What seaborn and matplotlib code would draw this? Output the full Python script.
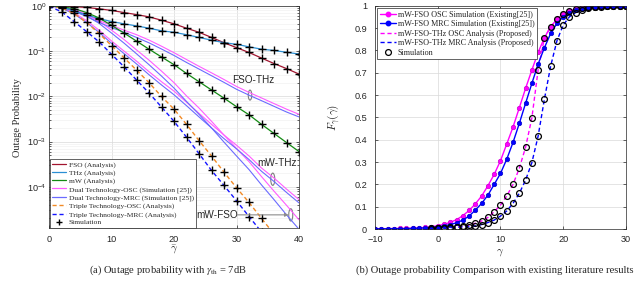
import matplotlib
matplotlib.use("Agg")
import matplotlib.pyplot as plt
import seaborn as sns
from matplotlib.patches import Ellipse
from matplotlib.lines import Line2D
from matplotlib.ticker import FormatStrFormatter, LogLocator, NullFormatter

# ---------------- (a) outage probability vs average SNR ----------------
snr_db = list(range(0, 41, 2))
p_fso = [1.0, 0.99, 0.96, 0.92, 0.86, 0.79, 0.71, 0.64, 0.57, 0.48, 0.40,
         0.32, 0.26, 0.20, 0.153, 0.119, 0.093, 0.070, 0.053, 0.041, 0.031]
p_thz = [1.0, 0.95, 0.77, 0.63, 0.52, 0.45, 0.40, 0.36, 0.32, 0.28, 0.26,
         0.23, 0.20, 0.174, 0.153, 0.141, 0.124, 0.110, 0.103, 0.094, 0.086]
p_mw = [1.0, 0.96, 0.87, 0.71, 0.54, 0.37, 0.25, 0.166, 0.110, 0.074, 0.050,
        0.032, 0.021, 0.0138, 0.0091, 0.0059, 0.0039, 0.0024, 0.00151, 0.00095, 0.00060]
# dual technology (simulation [25]) : FSO-THz, mW-THz, mW-FSO
osc_fso_thz = [1.0, 0.95, 0.80, 0.62, 0.47, 0.37, 0.29, 0.23, 0.175, 0.128, 0.092,
               0.065, 0.046, 0.033, 0.0235, 0.0165, 0.0122, 0.0092, 0.0069, 0.0052, 0.0040]
mrc_fso_thz = [1.0, 0.93, 0.76, 0.58, 0.43, 0.33, 0.26, 0.20, 0.152, 0.111, 0.080,
               0.056, 0.040, 0.0285, 0.0203, 0.0143, 0.0106, 0.0080, 0.0060, 0.0045, 0.0035]
osc_mw_thz = [1.0, 0.91, 0.70, 0.47, 0.29, 0.167, 0.100, 0.060, 0.035, 0.021, 0.013,
              0.0074, 0.0042, 0.0024, 0.00139, 0.00083, 0.00048, 0.00026, 0.000156, 8.9e-5, 5.2e-5]
mrc_mw_thz = [1.0, 0.89, 0.66, 0.43, 0.26, 0.148, 0.088, 0.052, 0.030, 0.0178, 0.0108,
              0.0062, 0.0035, 0.0020, 0.00116, 0.00069, 0.00040, 0.00022, 0.000131, 7.5e-5, 4.4e-5]
osc_mw_fso = [1.0, 0.95, 0.84, 0.65, 0.46, 0.29, 0.18, 0.106, 0.063, 0.036, 0.020,
              0.0102, 0.0055, 0.0028, 0.00139, 0.00070, 0.00036, 0.000168, 8.0e-5, 3.9e-5, 1.86e-5]
mrc_mw_fso = [1.0, 0.93, 0.80, 0.60, 0.41, 0.25, 0.150, 0.087, 0.050, 0.028, 0.0152,
              0.0077, 0.0040, 0.0020, 0.00097, 0.00048, 0.00024, 0.000110, 5.2e-5, 2.4e-5, 1.15e-5]
# triple technology (analysis)
osc_triple = [1.0, 0.90, 0.68, 0.43, 0.246, 0.132, 0.071, 0.038, 0.020, 0.0099, 0.0052,
              0.0024, 0.00105, 0.00048, 0.00021, 9.5e-5, 4.5e-5, 2.0e-5, 9e-6, 4e-6, 1.8e-6]
mrc_triple = [0.98, 0.74, 0.45, 0.27, 0.16, 0.085, 0.045, 0.023, 0.0118, 0.0058, 0.0028,
              0.00125, 5.4e-4, 2.3e-4, 1.07e-4, 4.9e-5, 2.2e-5, 1.0e-5, 4.5e-6, 2e-6, 9e-7]

# ---------------- (b) CDF comparison ----------------
gamma_db = list(range(-10, 31))
cdf_osc_sim = [0.001, 0.0012, 0.0015, 0.002, 0.0025, 0.003, 0.004, 0.005, 0.007, 0.010,
               0.015, 0.021, 0.030, 0.042, 0.060, 0.083, 0.113, 0.148, 0.194, 0.245,
               0.306, 0.381, 0.457, 0.543, 0.630, 0.712, 0.791, 0.857, 0.906, 0.940,
               0.963, 0.975, 0.984, 0.990, 0.993, 0.995, 0.997, 0.998, 0.999, 0.999, 1.0]
cdf_mrc_sim = [0.0007, 0.0008, 0.001, 0.0013, 0.0017, 0.002, 0.0028, 0.0035, 0.005, 0.007,
               0.010, 0.014, 0.020, 0.028, 0.040, 0.058, 0.085, 0.115, 0.152, 0.200,
               0.249, 0.313, 0.388, 0.473, 0.563, 0.652, 0.739, 0.812, 0.876, 0.921,
               0.951, 0.968, 0.980, 0.987, 0.992, 0.995, 0.997, 0.998, 0.999, 0.999, 1.0]
cdf_osc_ana = [0.0003, 0.0004, 0.0005, 0.0006, 0.0008, 0.001, 0.0013, 0.0017, 0.0022, 0.003,
               0.004, 0.005, 0.007, 0.009, 0.012, 0.017, 0.026, 0.036, 0.052, 0.078,
               0.107, 0.148, 0.200, 0.272, 0.366, 0.497, 0.712, 0.857, 0.906, 0.940,
               0.963, 0.975, 0.984, 0.990, 0.993, 0.995, 0.997, 0.998, 0.999, 0.999, 1.0]
cdf_mrc_ana = [0.0002, 0.0002, 0.0003, 0.0004, 0.0005, 0.0007, 0.0009, 0.0012, 0.0016, 0.002,
               0.003, 0.004, 0.005, 0.007, 0.010, 0.010, 0.014, 0.020, 0.029, 0.040,
               0.058, 0.081, 0.115, 0.160, 0.219, 0.297, 0.416, 0.581, 0.730, 0.843,
               0.914, 0.951, 0.970, 0.982, 0.989, 0.994, 0.996, 0.998, 0.999, 0.999, 1.0]
sim_start = 9  # circles drawn from gamma = -1 dB on

# ---------------- style ----------------
sns.set_style("ticks")
plt.rcParams['font.family'] = ['Liberation Serif', 'DejaVu Serif']
plt.rcParams['mathtext.fontset'] = 'custom'
plt.rcParams['mathtext.rm'] = 'Liberation Sans'
plt.rcParams['mathtext.it'] = 'Liberation Sans:italic'
plt.rcParams['axes.linewidth'] = 0.5
plt.rcParams['axes.edgecolor'] = '#262626'

SANS = 'Liberation Sans'
c_fso, c_thz, c_mw = '#A2142F', '#2a8fd4', '#138a13'
c_osc2, c_mrc2 = '#ff5cff', '#6b6bff'
c_osc3, c_mrc3 = '#f28a25', '#1414ff'

fig = plt.figure(figsize=(6.4, 2.91), dpi=100)
ax1 = fig.add_axes([0.0766, 0.215, 0.3906, 0.765])
ax2 = fig.add_axes([0.586, 0.213, 0.392, 0.767])


def line(ax, x, y, color, lw=0.9, dash=None, **kw):
    sns.lineplot(x=x, y=y, ax=ax, color=color, linewidth=lw, legend=False,
                 errorbar=None, **kw)
    ln = ax.lines[-1]
    if dash is not None:
        ln.set_dashes(dash)
    return ln


def plus(ax, x, y):
    # seaborn paints marker edges white by default, so force black
    sns.lineplot(x=x, y=y, ax=ax, color='k', marker='+', linestyle='none',
                 markersize=5.5, markeredgewidth=1.0, markeredgecolor='k',
                 legend=False, errorbar=None)


# ----- panel (a) -----
ax1.set_yscale('log')
for y, c in [(osc_fso_thz, c_osc2), (osc_mw_thz, c_osc2), (osc_mw_fso, c_osc2),
             (mrc_fso_thz, c_mrc2), (mrc_mw_thz, c_mrc2), (mrc_mw_fso, c_mrc2)]:
    line(ax1, snr_db, y, c, lw=0.8)
line(ax1, snr_db, osc_triple, c_osc3, lw=1.0, dash=(3, 2))
line(ax1, snr_db, mrc_triple, c_mrc3, lw=1.0, dash=(3, 2))
line(ax1, snr_db, p_fso, c_fso)
line(ax1, snr_db, p_thz, c_thz)
line(ax1, snr_db, p_mw, c_mw)
for y in [p_fso, p_thz, p_mw, osc_triple, mrc_triple]:
    plus(ax1, snr_db, y)

ax1.set_xlim(0, 40)
ax1.set_ylim(1.2e-5, 1)
ax1.set_xticks([0, 10, 20, 30, 40])
ax1.yaxis.set_major_locator(LogLocator(base=10, numticks=10))
ax1.yaxis.set_minor_locator(LogLocator(base=10, subs=range(2, 10), numticks=10))
ax1.yaxis.set_minor_formatter(NullFormatter())
ax1.grid(True, which='major', color='#d9d9d9', linewidth=0.5)
ax1.grid(True, which='minor', axis='y', color='#eeeeee', linewidth=0.4)
ax1.set_xlabel(r'$\bar{\gamma}$', fontsize=8, math_fontfamily='cm')
ax1.xaxis.set_label_coords(0.5, -0.095)
ax1.xaxis.label.set_va('center')
ax1.set_ylabel('Outage Probability', fontsize=7.5)
ax1.yaxis.set_label_coords(-0.108, 0.5)

ax1.text(0.816, 0.667, 'FSO-THz', transform=ax1.transAxes, fontsize=7.2,
         family=SANS, ha='center', va='center')
ax1.add_patch(Ellipse((0.804, 0.599), 0.014, 0.045, transform=ax1.transAxes,
                      fill=False, ec='#7f7f7f', lw=0.8))
ax1.text(0.912, 0.294, 'mW-THz', transform=ax1.transAxes, fontsize=7.2,
         family=SANS, ha='center', va='center')
ax1.add_patch(Ellipse((0.895, 0.221), 0.016, 0.055, transform=ax1.transAxes,
                      fill=False, ec='#7f7f7f', lw=0.8))
ax1.text(0.672, 0.061, 'mW-FSO', transform=ax1.transAxes, fontsize=7.2,
         family=SANS, ha='center', va='center')
ax1.annotate('', xy=(0.958, 0.061), xytext=(0.752, 0.061), xycoords='axes fraction',
             arrowprops=dict(arrowstyle='-|>', color='#8c8c8c', lw=0.8,
                             mutation_scale=5, shrinkA=0, shrinkB=0))
ax1.add_patch(Ellipse((0.967, 0.061), 0.016, 0.055, transform=ax1.transAxes,
                      fill=False, ec='#7f7f7f', lw=0.8))

h1 = [Line2D([], [], color=c_fso, lw=0.9),
      Line2D([], [], color=c_thz, lw=0.9),
      Line2D([], [], color=c_mw, lw=0.9),
      Line2D([], [], color=c_osc2, lw=0.9),
      Line2D([], [], color=c_mrc2, lw=0.9),
      Line2D([], [], color=c_osc3, lw=1.0, dashes=(3, 2)),
      Line2D([], [], color=c_mrc3, lw=1.0, dashes=(3, 2)),
      Line2D([], [], color='k', marker='+', ls='none', ms=5, mew=1.0)]
l1 = ['FSO (Analysis)', 'THz (Analysis)', 'mW (Analysis)',
      'Dual Technology-OSC (Simulation [25])', 'Dual Technology-MRC (Simulation [25])',
      'Triple Technology-OSC (Analysis)', 'Triple Technology-MRC (Analysis)', 'Simulation']
leg1 = ax1.legend(h1, l1, loc='lower left', fontsize=5.4, frameon=True, fancybox=False,
                  edgecolor='#262626', framealpha=1, borderaxespad=0.1, borderpad=0.3,
                  labelspacing=0.22, handlelength=1.9, handletextpad=0.3)
leg1.get_frame().set_linewidth(0.5)

# ----- panel (b) -----
line(ax2, gamma_db, cdf_osc_ana, '#ff00ff', lw=1.0, dash=(3, 2))
line(ax2, gamma_db, cdf_mrc_ana, '#0000ff', lw=1.0, dash=(3, 2))
line(ax2, gamma_db, cdf_osc_sim, '#ff00ff', lw=1.0, marker='o', markersize=3.2,
     markerfacecolor='#ff00ff', markeredgecolor='#cc00cc', markeredgewidth=0.5)
line(ax2, gamma_db, cdf_mrc_sim, '#0000ff', lw=1.0, marker='o', markersize=3.2,
     markerfacecolor='#0000ff', markeredgecolor='#0000cc', markeredgewidth=0.5)
for y in [cdf_osc_ana, cdf_mrc_ana]:
    sns.lineplot(x=gamma_db[sim_start:], y=y[sim_start:], ax=ax2, marker='o',
                 linestyle='none', markersize=4.2, markerfacecolor='none',
                 markeredgecolor='k', markeredgewidth=0.9, legend=False, errorbar=None)

ax2.set_xlim(-10, 30)
ax2.set_ylim(0, 1)
ax2.set_xticks([-10, 0, 10, 20, 30])
ax2.set_yticks([i / 10 for i in range(11)])
ax2.yaxis.set_major_formatter(FormatStrFormatter('%g'))
ax2.grid(True, color='#d9d9d9', linewidth=0.5)
ax2.set_xlabel(r'$\gamma$', fontsize=8, math_fontfamily='cm')
ax2.xaxis.set_label_coords(0.5, -0.105)
ax2.xaxis.label.set_va('center')
ax2.set_ylabel(r'$F_{\gamma}(\gamma)$', fontsize=8, math_fontfamily='cm')
ax2.yaxis.set_label_coords(-0.128, 0.5)

h2 = [Line2D([], [], color='#ff00ff', lw=1.0, marker='o', ms=3.2),
      Line2D([], [], color='#0000ff', lw=1.0, marker='o', ms=3.2),
      Line2D([], [], color='#ff00ff', lw=1.0, dashes=(3, 2)),
      Line2D([], [], color='#0000ff', lw=1.0, dashes=(3, 2)),
      Line2D([], [], color='k', marker='o', ls='none', ms=4.2, mfc='none', mew=0.9)]
l2 = ['mW-FSO OSC Simulation (Existing[25])', 'mW-FSO MRC Simulation (Existing[25])',
      'mW-FSO-THz OSC Analysis (Proposed)', 'mW-FSO-THz MRC Analysis (Proposed)',
      'Simulation']
leg2 = ax2.legend(h2, l2, loc='upper left', fontsize=5.9, frameon=True, fancybox=False,
                  edgecolor='#262626', framealpha=1, borderaxespad=0.3, borderpad=0.3,
                  labelspacing=0.18, handlelength=1.9, handletextpad=0.3)
leg2.get_frame().set_linewidth(0.5)

for ax in (ax1, ax2):
    ax.tick_params(which='both', direction='in', top=True, right=True,
                   width=0.5, labelsize=6.6, labelcolor='#262626')
    ax.tick_params(which='major', length=2.5)
    ax.tick_params(which='minor', length=1.3)
    ax.tick_params(axis='x', pad=4.5)
    for lab in ax.get_xticklabels() + ax.get_yticklabels():
        lab.set_family(SANS)
    for s in ax.spines.values():
        s.set_visible(True)
ax1.tick_params(axis='y', pad=2)
ax2.tick_params(axis='y', pad=5.8)

fig.text(0.2625, 1 - 270 / 291, r'(a) Outage probability with $\gamma_{\rm th}$ = 7dB',
         ha='center', va='center', fontsize=7.6, math_fontfamily='stix')
fig.text(0.773, 1 - 270 / 291, '(b) Outage probability Comparison with existing literature results',
         ha='center', va='center', fontsize=7.6)

fig.savefig('out.png', dpi=100)
